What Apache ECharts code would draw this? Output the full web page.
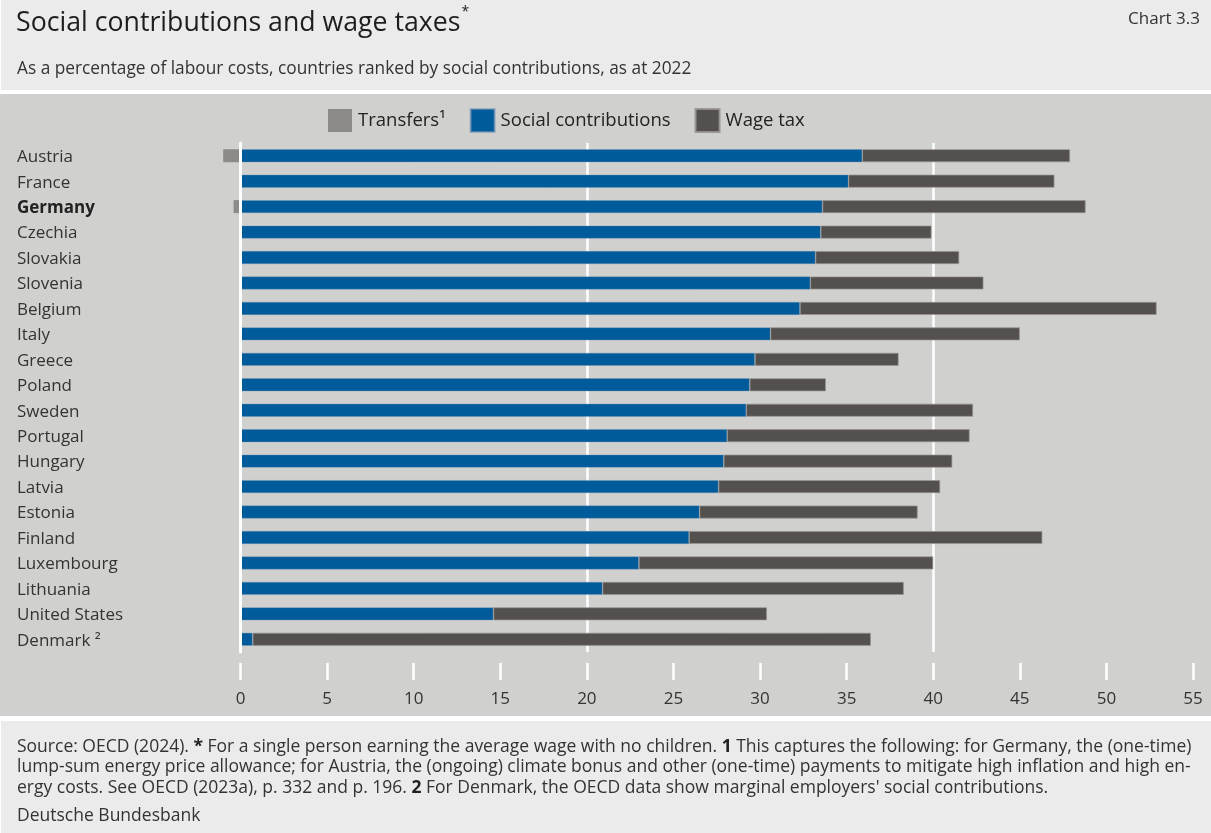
<!DOCTYPE html>
<html>
<head>
<meta charset="utf-8">
<script src="https://cdn.jsdelivr.net/npm/echarts@6/dist/echarts.min.js"></script>
<style>
  html, body { margin: 0; padding: 0; background: #ffffff; }
  #chart { width: 1211px; height: 833px; }
</style>
</head>
<body>
<div id="chart"></div>
<script>
// Countries, ranked by social contributions (2022), % of labour costs
const countries = ['Austria', 'France', 'Germany', 'Czechia', 'Slovakia', 'Slovenia', 'Belgium', 'Italy',
  'Greece', 'Poland', 'Sweden', 'Portugal', 'Hungary', 'Latvia', 'Estonia', 'Finland',
  'Luxembourg', 'Lithuania', 'United States', 'Denmark'];
const transfers = [-1.0, null, -0.4, null, null, null, null, null, null, null, null, null, null, null, null, null, null, null, null, null];
const socialContributions = [35.9, 35.1, 33.6, 33.5, 33.2, 32.9, 32.3, 30.6, 29.7, 29.4, 29.2, 28.1, 27.9, 27.6, 26.5, 25.9, 23.0, 20.9, 14.6, 0.7];
const wageTax = [12.0, 11.9, 15.2, 6.4, 8.3, 10.0, 20.6, 14.4, 8.3, 4.4, 13.1, 14.0, 13.2, 12.8, 12.6, 20.4, 17.0, 17.4, 15.8, 35.7];
const xTicks = { min: 0, max: 55, step: 5, gridStep: 20 };

const FONT = "'Open Sans', 'Noto Sans', sans-serif";

const chart = echarts.init(document.getElementById('chart'), null, { renderer: 'canvas' });

function countryLabel(name) {
  if (name === 'Germany') return '{bold|' + name + '}';
  if (name === 'Denmark') return name + ' ²';
  return name;
}

const option = {
  animation: false,
  backgroundColor: '#ffffff',
  textStyle: { fontFamily: FONT },
  graphic: [
    // header, plot and footer panels
    { type: 'rect', z: -10, silent: true, shape: { x: 1, y: 0, width: 1210, height: 90 }, style: { fill: '#ebebeb' } },
    { type: 'rect', z: -10, silent: true, shape: { x: 0, y: 94, width: 1211, height: 622 }, style: { fill: '#d0d0ce' } },
    { type: 'rect', z: -10, silent: true, shape: { x: 1, y: 721, width: 1210, height: 112 }, style: { fill: '#ebebeb' } },
    {
      type: 'text', left: 16, top: 5, silent: true,
      style: {
        text: '{t|Social contributions and wage taxes}{s|*}',
        rich: {
          t: { fontFamily: FONT, fontSize: 26.7, fill: '#1e1e1e', verticalAlign: 'bottom', height: 37 },
          s: { fontFamily: FONT, fontSize: 14, fill: '#1e1e1e', verticalAlign: 'top', padding: [0, 0, 18, 1] }
        }
      }
    },
    {
      type: 'text', right: 11, top: 11, silent: true,
      style: { text: 'Chart 3.3', fontFamily: FONT, fontSize: 17, fill: '#333333' }
    },
    {
      type: 'text', left: 17, top: 61, silent: true,
      style: { text: 'As a percentage of labour costs, countries ranked by social contributions, as at 2022', fontFamily: FONT, fontSize: 17.3, fill: '#333333' }
    },
    {
      type: 'text', left: 17, top: 737, silent: true,
      style: {
        text: [
          'Source: OECD (2024). {b|*} For a single person earning the average wage with no children. {b|1} This captures the following: for Germany, the (one-time)',
          'lump-sum energy price allowance; for Austria, the (ongoing) climate bonus and other (one-time) payments to mitigate high inflation and high en-',
          'ergy costs. See OECD (2023a), p. 332 and p. 196. {b|2} For Denmark, the OECD data show marginal employers\' social contributions.'
        ].join('\n'),
        fontFamily: FONT, fontSize: 17.5, fill: '#333333', lineHeight: 20.3,
        rich: { b: { fontFamily: FONT, fontSize: 17.5, fontWeight: 'bold', fill: '#222222', lineHeight: 20.3 } }
      }
    },
    {
      type: 'text', left: 17, top: 807, silent: true,
      style: { text: 'Deutsche Bundesbank', fontFamily: FONT, fontSize: 17.5, fill: '#333333' }
    }
  ],
  legend: {
    left: 323, top: 103,
    icon: 'rect', itemWidth: 24, itemHeight: 23, itemGap: 24,
    textStyle: { fontFamily: FONT, fontSize: 18.5, color: '#222222', padding: [0, 0, 0, 1] },
    selectedMode: false
  },
  grid: { left: 240.5, right: 18, top: 143, bottom: 181, containLabel: false },
  xAxis: [
    {
      type: 'value', position: 'top', min: xTicks.min, max: xTicks.max, interval: xTicks.gridStep,
      axisLine: { show: false }, axisTick: { show: false }, axisLabel: { show: false },
      splitLine: { show: true, showMinLine: false, showMaxLine: false, lineStyle: { color: '#ffffff', width: 2.5 } }
    },
    {
      type: 'value', position: 'bottom', offset: 11, min: xTicks.min, max: xTicks.max, interval: xTicks.step,
      axisLine: { show: false },
      axisTick: { show: true, length: 17, lineStyle: { color: '#ffffff', width: 2.5 } },
      axisLabel: { margin: 28, fontFamily: FONT, fontSize: 17, color: '#333333' },
      splitLine: { show: false }
    }
  ],
  yAxis: {
    type: 'category', data: countries, inverse: true, z: 10,
    axisLine: { show: true, lineStyle: { color: '#ffffff', width: 3 } },
    axisTick: { show: false },
    axisLabel: {
      align: 'left', margin: 223.5, fontFamily: FONT, fontSize: 17, color: '#333333',
      padding: [3, 0, 0, 0],
      formatter: countryLabel,
      rich: {
        bold: { fontFamily: FONT, fontSize: 17, fontWeight: 'bold', color: '#222222' }
      }
    }
  },
  series: [
    {
      name: 'Transfers¹', type: 'bar', stack: 'total', barWidth: 13, xAxisIndex: 0, clip: false,
      data: transfers,
      itemStyle: { color: '#8c8b89' }
    },
    {
      name: 'Social contributions', type: 'bar', stack: 'total', barWidth: 13, xAxisIndex: 0, clip: false,
      data: socialContributions,
      itemStyle: { color: '#005b9b', borderColor: 'rgba(120,150,180,0.6)', borderWidth: 0.6 }
    },
    {
      name: 'Wage tax', type: 'bar', stack: 'total', barWidth: 13, xAxisIndex: 0, clip: false,
      data: wageTax,
      itemStyle: { color: '#53504d', borderColor: 'rgba(150,148,146,0.9)', borderWidth: 0.8 }
    }
  ]
};

chart.setOption(option);
</script>
</body>
</html>
